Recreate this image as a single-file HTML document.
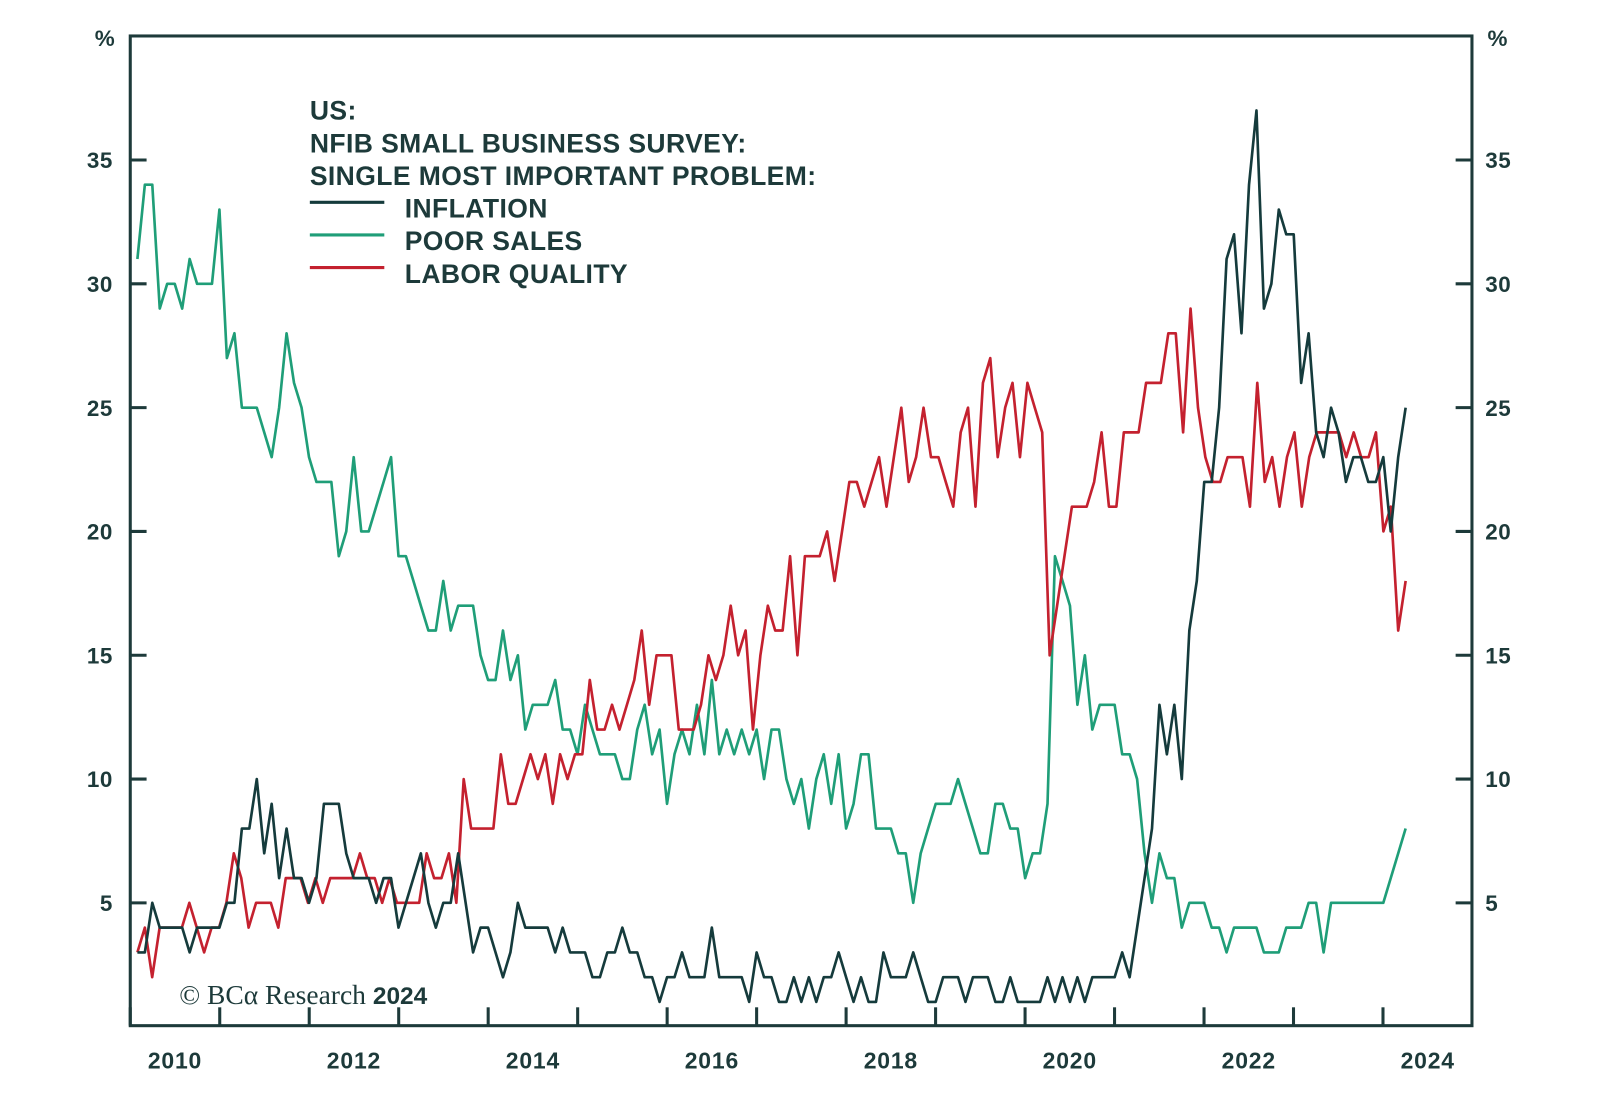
<!DOCTYPE html>
<html><head><meta charset="utf-8"><style>
body{margin:0;background:#fff;}
svg{display:block;font-family:"Liberation Sans",sans-serif;}
</style></head><body>
<svg id="chart" width="1600" height="1114" viewBox="0 0 1560 1086" xmlns="http://www.w3.org/2000/svg">
<g transform="translate(127,35) scale(0.9948) translate(-127,-35)">
<rect x="127" y="35" width="1315" height="970" fill="none" stroke="#1d3a3a" stroke-width="3"/>
<g id="axes"></g>
<g id="series"></g>
<text x="102" y="45" font-size="22" font-weight="bold" fill="#1d3a3a" text-anchor="middle">%</text>
<text x="1467" y="45" font-size="22" font-weight="bold" fill="#1d3a3a" text-anchor="middle">%</text>
<g font-size="26" font-weight="bold" fill="#1d3a3a" letter-spacing="0.4">
<text x="303" y="117">US:</text>
<text x="303" y="149">NFIB SMALL BUSINESS SURVEY:</text>
<text x="303" y="181">SINGLE MOST IMPORTANT PROBLEM:</text>
<line x1="303" y1="198" x2="376" y2="198" stroke="#153b3c" stroke-width="3"/>
<text x="396" y="213">INFLATION</text>
<line x1="303" y1="230" x2="376" y2="230" stroke="#1f9e78" stroke-width="3"/>
<text x="396" y="245">POOR SALES</text>
<line x1="303" y1="262" x2="376" y2="262" stroke="#c4212f" stroke-width="3"/>
<text x="396" y="277">LABOR QUALITY</text>
</g>
<text x="175" y="984" font-family="Liberation Serif,serif" font-size="27" fill="#1d3a3a">© BCα Research <tspan font-family="Liberation Sans,sans-serif" font-weight="bold" font-size="24">2024</tspan></text>
</g>
</svg>
<script>
const yTicks=[5,10,15,20,25,30,35];
const yearTicks=[2010,2011,2012,2013,2014,2015,2016,2017,2018,2019,2020,2021,2022,2023,2024];
const yearLabels=[2010,2012,2014,2016,2018,2020,2022,2024];
const inflation=[3,3,5,4,4,4,4,3,4,4,4,4,5,5,8,8,10,7,9,6,8,6,6,5,6,9,9,9,7,6,6,6,5,6,6,4,5,6,7,5,4,5,5,7,5,3,4,4,3,2,3,5,4,4,4,4,3,4,3,3,3,2,2,3,3,4,3,3,2,2,1,2,2,3,2,2,2,4,2,2,2,2,1,3,2,2,1,1,2,1,2,1,2,2,3,2,1,2,1,1,3,2,2,2,3,2,1,1,2,2,2,1,2,2,2,1,1,2,1,1,1,1,2,1,2,1,2,1,2,2,2,2,3,2,4,6,8,13,11,13,10,16,18,22,22,25,31,32,28,34,37,29,30,33,32,32,26,28,24,23,25,24,22,23,23,22,22,23,20,23,25];
const poorSales=[31,34,34,29,30,30,29,31,30,30,30,33,27,28,25,25,25,24,23,25,28,26,25,23,22,22,22,19,20,23,20,20,21,22,23,19,19,18,17,16,16,18,16,17,17,17,15,14,14,16,14,15,12,13,13,13,14,12,12,11,13,12,11,11,11,10,10,12,13,11,12,9,11,12,11,13,11,14,11,12,11,12,11,12,10,12,12,10,9,10,8,10,11,9,11,8,9,11,11,8,8,8,7,7,5,7,8,9,9,9,10,9,8,7,7,9,9,8,8,6,7,7,9,19,18,17,13,15,12,13,13,13,11,11,10,7,5,7,6,6,4,5,5,5,4,4,3,4,4,4,4,3,3,3,4,4,4,5,5,3,5,5,5,5,5,5,5,5,6,7,8];
const laborQuality=[3,4,2,4,4,4,4,5,4,3,4,4,5,7,6,4,5,5,5,4,6,6,6,5,6,5,6,6,6,6,7,6,6,5,6,5,5,5,5,7,6,6,7,5,10,8,8,8,8,11,9,9,10,11,10,11,9,11,10,11,11,14,12,12,13,12,13,14,16,13,15,15,15,12,12,12,13,15,14,15,17,15,16,12,15,17,16,16,19,15,19,19,19,20,18,20,22,22,21,22,23,21,23,25,22,23,25,23,23,22,21,24,25,21,26,27,23,25,26,23,26,25,24,15,17,19,21,21,21,22,24,21,21,24,24,24,26,26,26,28,28,24,29,25,23,22,22,23,23,23,21,26,22,23,21,23,24,21,23,24,24,24,24,23,24,23,23,24,20,21,16,18];
const NS="http://www.w3.org/2000/svg";
const X0=127,PX_YEAR=87.7,Y0=1006,PX_UNIT=24.27;
function xYear(y){return X0+(y-2010)*PX_YEAR;}
function yVal(v){return Y0-v*PX_UNIT;}
const axes=document.getElementById('axes'),series=document.getElementById('series');
function mk(tag,at,parent){const e=document.createElementNS(NS,tag);for(const k in at)e.setAttribute(k,at[k]);parent.appendChild(e);return e;}
yTicks.forEach(v=>{
 const y=yVal(v);
 let t=mk('line',{x1:127,x2:143,y1:y,y2:y,stroke:'#1d3a3a','stroke-width':3},axes);
 
 
 t=mk('line',{x1:1426,x2:1442,y1:y,y2:y,stroke:'#1d3a3a','stroke-width':3},axes);
 
 
 let l=mk('text',{x:110,y:y+8,'text-anchor':'end','font-size':22,'font-weight':'bold',fill:'#1d3a3a','letter-spacing':0.5},axes);
 l.textContent=v;
 
 
 l=mk('text',{x:1455,y:y+8,'text-anchor':'start','font-size':22,'font-weight':'bold',fill:'#1d3a3a','letter-spacing':0.5},axes);
 l.textContent=v;
 
 
});
yearTicks.forEach(yr=>{
 const x=xYear(yr);
 const t=mk('line',{x1:x,x2:x,y1:1005,y2:987,stroke:'#1d3a3a','stroke-width':3},axes);
 
 
});
yearLabels.forEach(yr=>{
 const l=mk('text',{x:xYear(yr+0.5),y:1047,'text-anchor':'middle','font-size':22.5,'font-weight':'bold',fill:'#1d3a3a','letter-spacing':0.8},axes);
 l.textContent=yr;
 
 
});
function draw(arr,color,name){
 const xs=134,xe=1377,n=arr.length;
 const pts=arr.map((v,i)=>(xs+i*(xe-xs)/(n-1)).toFixed(1)+','+yVal(v).toFixed(1)).join(' ');
 const p=mk('polyline',{points:pts,fill:'none',stroke:color,'stroke-width':2.6,'stroke-linejoin':'round'},series);
 
 
}
draw(poorSales,'#1f9e78','poor-sales-line');
draw(laborQuality,'#c4212f','labor-quality-line');
draw(inflation,'#153b3c','inflation-line');
</script>
</body></html>
